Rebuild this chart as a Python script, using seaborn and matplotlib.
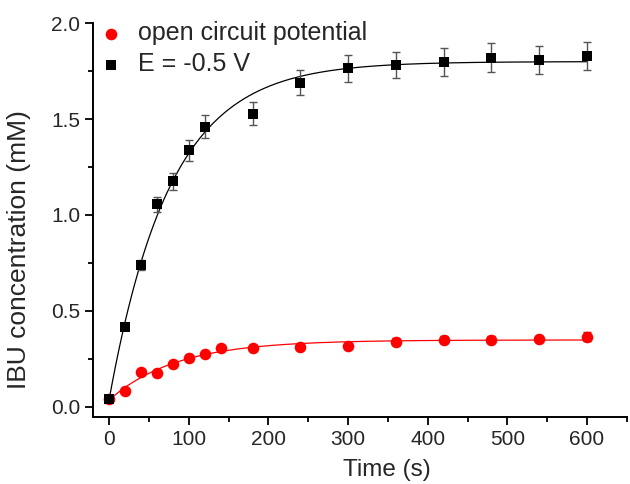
import numpy as np
import pandas as pd
import matplotlib
matplotlib.use("Agg")
import matplotlib.pyplot as plt
from matplotlib.ticker import MultipleLocator
import seaborn as sns

# readings
time_ocp = [0, 20, 40, 60, 80, 100, 120, 140, 180, 240, 300, 360, 420, 480, 540, 600]
conc_ocp = [0.04, 0.08, 0.18, 0.177, 0.223, 0.252, 0.275, 0.308, 0.308, 0.313, 0.315,
            0.339, 0.348, 0.350, 0.353, 0.365]
err_ocp = [0.012, 0.012, 0.012, 0.012, 0.012, 0.012, 0.012, 0.015, 0.015, 0.015, 0.015,
           0.018, 0.018, 0.018, 0.018, 0.022]

time_neg = [0, 20, 40, 60, 80, 100, 120, 180, 240, 300, 360, 420, 480, 540, 600]
conc_neg = [0.04, 0.417, 0.739, 1.056, 1.176, 1.337, 1.461, 1.528, 1.690, 1.765,
            1.782, 1.800, 1.820, 1.807, 1.831]
err_neg = [0.01, 0.01, 0.025, 0.04, 0.045, 0.055, 0.06, 0.06, 0.065, 0.07,
           0.07, 0.073, 0.075, 0.072, 0.073]

labels = ["open circuit potential", "E = -0.5 V"]


def exp_fit(t, y):
    # y = a - b*exp(-k t), scan k and solve a, b by least squares
    t = np.asarray(t, float)
    y = np.asarray(y, float)
    best = None
    for k in np.linspace(0.001, 0.1, 2000):
        A = np.column_stack([np.ones_like(t), -np.exp(-k * t)])
        coef, res, _, _ = np.linalg.lstsq(A, y, rcond=None)
        sse = np.sum((A @ coef - y) ** 2)
        if best is None or sse < best[0]:
            best = (sse, coef[0], coef[1], k)
    _, a, b, k = best
    tt = np.linspace(0, t.max(), 300)
    return tt, a - b * np.exp(-k * tt)


sns.set_style("ticks")
plt.rcParams["font.family"] = ["Liberation Sans", "DejaVu Sans"]

fig, ax = plt.subplots(figsize=(6.3, 4.84), dpi=100)
fig.subplots_adjust(left=0.148, right=0.995, bottom=0.138, top=0.952)

tt, ff = exp_fit(time_neg, conc_neg)
sns.lineplot(x=tt, y=ff, color="black", lw=0.9, ax=ax)
tt, ff = exp_fit(time_ocp, conc_ocp)
sns.lineplot(x=tt, y=ff, color="red", lw=0.9, ax=ax)

ax.errorbar(time_neg, conc_neg, yerr=err_neg, fmt="none", ecolor="#555555",
            elinewidth=1, capsize=3, capthick=1, zorder=3)
ax.errorbar(time_ocp, conc_ocp, yerr=err_ocp, fmt="none", ecolor="#cc0000",
            elinewidth=1, capsize=3, capthick=1, zorder=3)

df_ocp = pd.DataFrame({"t": time_ocp, "c": conc_ocp})
df_neg = pd.DataFrame({"t": time_neg, "c": conc_neg})
sns.scatterplot(data=df_ocp, x="t", y="c", color="red", marker="o", s=70,
                edgecolor="red", linewidth=0, label=labels[0], ax=ax, zorder=4)
sns.scatterplot(data=df_neg, x="t", y="c", color="black", marker="s", s=55,
                edgecolor="black", linewidth=0, label=labels[1], ax=ax, zorder=4)

ax.set_xlim(-20, 650)
ax.set_ylim(-0.055, 2.0)
ax.xaxis.set_major_locator(MultipleLocator(100))
ax.xaxis.set_minor_locator(MultipleLocator(50))
ax.yaxis.set_major_locator(MultipleLocator(0.5))
ax.yaxis.set_minor_locator(MultipleLocator(0.25))
ax.yaxis.set_major_formatter(plt.FormatStrFormatter("%.1f"))
ax.tick_params(which="major", length=6, width=1.3, labelsize=15, color="black")
ax.tick_params(which="minor", length=3.5, width=1.3, color="black")
for s in ["left", "bottom"]:
    ax.spines[s].set_linewidth(1.4)
    ax.spines[s].set_color("black")
sns.despine(ax=ax)

ax.set_xlabel("Time (s)", fontsize=17.5)
ax.set_ylabel("IBU concentration (mM)", fontsize=19)
ax.xaxis.set_label_coords(0.551, -0.105)
ax.yaxis.set_label_coords(-0.117, 0.426)

ax.legend(loc="upper left", bbox_to_anchor=(0.009, 1.005), frameon=False, fontsize=18,
          borderaxespad=0, borderpad=0, handletextpad=0.6, labelspacing=0.28,
          markerscale=1.0, handlelength=1.0)

plt.savefig("out.png", dpi=100, facecolor="w")
